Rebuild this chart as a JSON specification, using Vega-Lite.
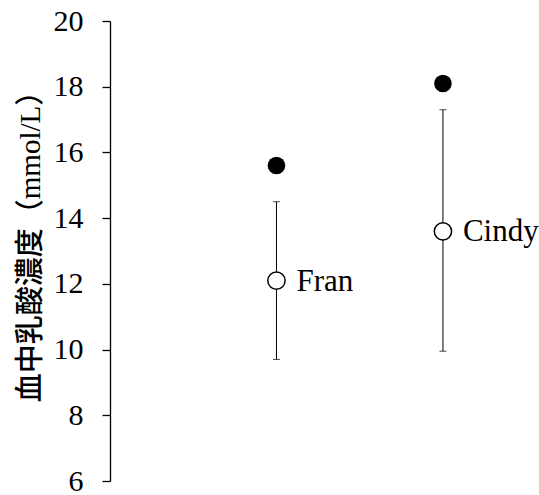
{
  "$schema": "https://vega.github.io/schema/vega-lite/v6.json",
  "width": 429,
  "height": 460,
  "autosize": {"type": "none"},
  "padding": {"left": 110, "top": 21, "right": 0, "bottom": 14},
  "background": "white",
  "config": {"view": {"stroke": null}},
  "data": {
    "values": [
      {"name": "Fran", "pos": 1, "mean": 12.1, "lo": 9.7, "hi": 14.5, "peak": 15.6},
      {"name": "Cindy", "pos": 2, "mean": 13.6, "lo": 9.95, "hi": 17.3, "peak": 18.1}
    ]
  },
  "encoding": {
    "x": {"field": "pos", "type": "quantitative", "scale": {"domain": [0, 2.577]}, "axis": null}
  },
  "layer": [
    {
      "mark": {"type": "rule", "color": "black", "strokeWidth": 1},
      "encoding": {
        "y": {
          "field": "lo", "type": "quantitative",
          "scale": {"domain": [6, 20], "nice": false, "zero": false},
          "axis": {
            "values": [6, 8, 10, 12, 14, 16, 18, 20],
            "grid": false,
            "domainColor": "black",
            "domainWidth": 1.3,
            "tickColor": "black",
            "tickWidth": 1.3,
            "tickSize": 8,
            "labelFont": "Liberation Serif",
            "labelFontSize": 30,
            "labelColor": "black",
            "labelPadding": 19,
            "title": "血中乳酸濃度（mmol/L）",
            "titleFont": "Liberation Serif, Noto Sans CJK JP",
            "titleFontSize": 29,
            "titleFontWeight": 500,
            "titleColor": "black",
            "titlePadding": 8,
            "titleY": 218
          }
        },
        "y2": {"field": "hi"}
      }
    },
    {
      "mark": {"type": "tick", "orient": "horizontal", "color": "black", "size": 7, "thickness": 1},
      "encoding": {"y": {"field": "lo", "type": "quantitative"}}
    },
    {
      "mark": {"type": "tick", "orient": "horizontal", "color": "black", "size": 7, "thickness": 1},
      "encoding": {"y": {"field": "hi", "type": "quantitative"}}
    },
    {
      "mark": {"type": "point", "shape": "circle", "filled": true, "fill": "white", "stroke": "black", "strokeWidth": 1.5, "size": 300, "opacity": 1},
      "encoding": {"y": {"field": "mean", "type": "quantitative"}}
    },
    {
      "mark": {"type": "point", "shape": "circle", "filled": true, "color": "black", "size": 310, "opacity": 1},
      "encoding": {"y": {"field": "peak", "type": "quantitative"}}
    },
    {
      "mark": {"type": "text", "align": "left", "baseline": "middle", "dx": 20, "dy": 1, "font": "Liberation Serif", "fontSize": 31, "color": "black"},
      "encoding": {
        "y": {"field": "mean", "type": "quantitative"},
        "text": {"field": "name"}
      }
    }
  ]
}
